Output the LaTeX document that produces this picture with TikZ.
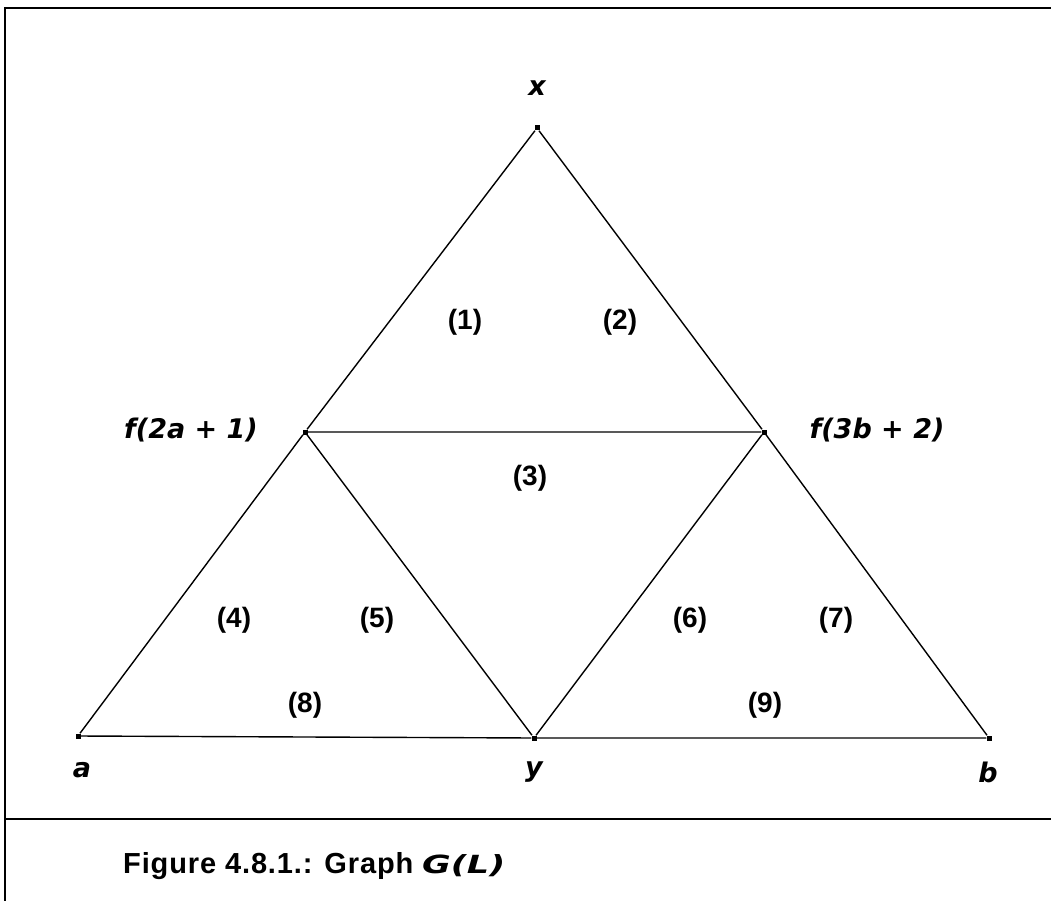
\documentclass[tikz,border=0pt]{standalone}
\usepackage{fontspec}
\setmainfont{Liberation Sans}
\newfontfamily\handfont{DejaVu Sans}
\newfontfamily\capfont[LetterSpace=3]{Liberation Sans}
\begin{document}
\begin{tikzpicture}[x=1pt,y=-1pt,
  vtx/.style={fill=black,inner sep=0pt,minimum size=5pt,rectangle},
  edge/.style={line width=1.4pt},
  frame/.style={line width=1.6pt},
  hand/.style={font=\fontsize{27}{29}\selectfont\handfont\bfseries\itshape},
  face/.style={font=\fontsize{28}{30}\selectfont\bfseries},
  captext/.style={font=\fontsize{29}{31}\selectfont\capfont\bfseries, anchor=base west, inner sep=0pt}]
\useasboundingbox (0,0) rectangle (1051,901);
\coordinate (tl) at (5,8);
\coordinate (tr) at (1051,8);
\coordinate (bl) at (5,901);
\coordinate (sl) at (5,819);
\coordinate (sr) at (1051,819);
\draw[frame] (bl) -- (tl) -- (tr);
\draw[frame] (sl) -- (sr);
\node[vtx] (x) at (537,128) {};
\node[vtx] (f1) at (305,432) {};
\node[vtx] (f2) at (764,432) {};
\node[vtx] (a) at (78,736) {};
\node[vtx] (y) at (534,738) {};
\node[vtx] (b) at (989,738) {};
\draw[edge] (x) -- (f1) -- (a) -- (y) -- (b) -- (f2) -- (x);
\draw[edge] (f1) -- (f2) -- (y) -- (f1);
\node[hand] (lx) at (537,88) {x};
\node[hand] (lf1) at (191,430) {f(2a + 1)};
\node[hand] (lf2) at (877,430) {f(3b + 2)};
\node[hand] (la) at (82,770) {a};
\node[hand] (ly) at (534,772) {y};
\node[hand] (lb) at (988,772) {b};
\node[face] (n1) at (465,322) {(1)};
\node[face] (n2) at (620,322) {(2)};
\node[face] (n3) at (530,478) {(3)};
\node[face] (n4) at (234,620) {(4)};
\node[face] (n5) at (377,620) {(5)};
\node[face] (n6) at (690,620) {(6)};
\node[face] (n7) at (836,620) {(7)};
\node[face] (n8) at (305,705) {(8)};
\node[face] (n9) at (765,705) {(9)};
\node[captext] (caption) at (123,873) {Figure 4.8.1.: Graph {\handfont\bfseries\itshape\fontsize{25}{27}\selectfont\scalebox{1.4}[1]{G(L)}}};
\end{tikzpicture}
\end{document}
